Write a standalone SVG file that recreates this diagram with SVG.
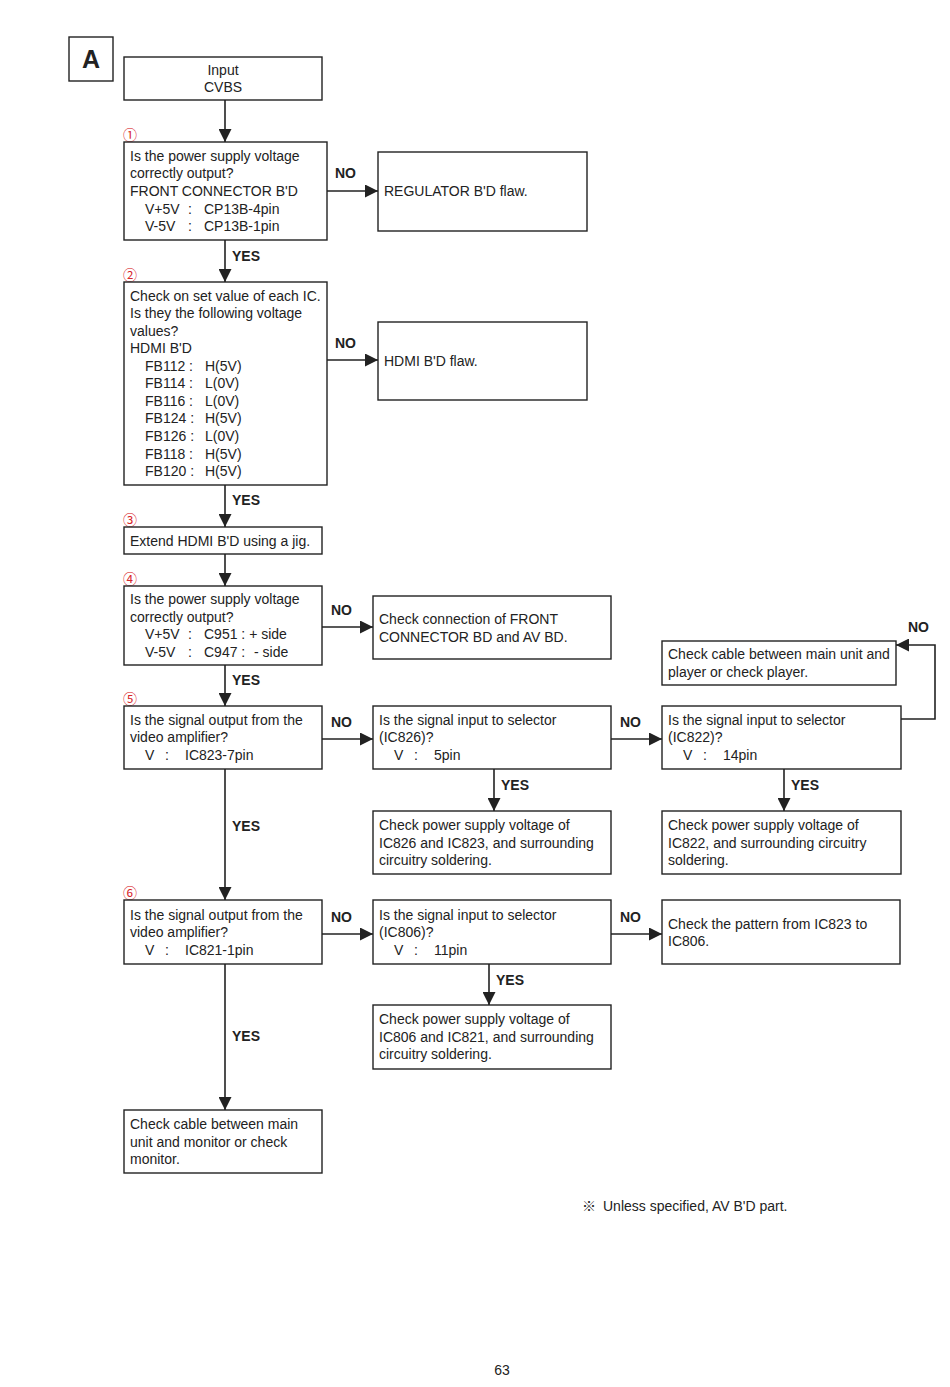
<svg xmlns="http://www.w3.org/2000/svg" width="950" height="1387" viewBox="0 0 950 1387">
<style>
.box{fill:#fff;stroke:#222;stroke-width:1.4}
.t{font-family:"Liberation Sans",Arial,sans-serif;font-size:14px;fill:#222}
.c{text-anchor:middle}
.lbl{font-family:"Liberation Sans",Arial,sans-serif;font-size:14px;font-weight:bold;fill:#222}
.num{font-family:"Noto Sans CJK JP","DejaVu Sans",sans-serif;font-size:14px;fill:#d8262b}
.ln{fill:none;stroke:#222;stroke-width:1.6}
</style>
<defs>
<marker id="ah" markerUnits="userSpaceOnUse" markerWidth="13" markerHeight="13" refX="13" refY="6.5" orient="auto">
<path d="M0,0 L13,6.5 L0,13 z" fill="#222"/>
</marker>
</defs>
<rect width="950" height="1387" fill="#fff"/>

<g id="label-A">
<rect class="box" x="69" y="37" width="44" height="44"/>
<text x="91" y="68" font-family="Liberation Sans,Arial,sans-serif" font-size="25" font-weight="bold" text-anchor="middle" fill="#222">A</text>
</g>

<g id="connectors">
<path class="ln" marker-end="url(#ah)" d="M225,100 V142"/>
<path class="ln" marker-end="url(#ah)" d="M327,191 H378"/>
<path class="ln" marker-end="url(#ah)" d="M225,240 V282"/>
<path class="ln" marker-end="url(#ah)" d="M327,360 H378"/>
<path class="ln" marker-end="url(#ah)" d="M225,485 V527"/>
<path class="ln" marker-end="url(#ah)" d="M225,554 V586"/>
<path class="ln" marker-end="url(#ah)" d="M322,627 H373"/>
<path class="ln" marker-end="url(#ah)" d="M225,665 V706"/>
<path class="ln" marker-end="url(#ah)" d="M322,739 H373"/>
<path class="ln" marker-end="url(#ah)" d="M611,739 H662"/>
<path class="ln" marker-end="url(#ah)" d="M901,719 H935 V645 H896"/>
<path class="ln" marker-end="url(#ah)" d="M494,769 V811"/>
<path class="ln" marker-end="url(#ah)" d="M784,769 V811"/>
<path class="ln" marker-end="url(#ah)" d="M225,769 V900"/>
<path class="ln" marker-end="url(#ah)" d="M322,934 H373"/>
<path class="ln" marker-end="url(#ah)" d="M611,934 H662"/>
<path class="ln" marker-end="url(#ah)" d="M489,964 V1005"/>
<path class="ln" marker-end="url(#ah)" d="M225,964 V1110"/>
<text class="lbl" x="335" y="178">NO</text>
<text class="lbl" x="232" y="261">YES</text>
<text class="lbl" x="335" y="348">NO</text>
<text class="lbl" x="232" y="505">YES</text>
<text class="lbl" x="331" y="615">NO</text>
<text class="lbl" x="232" y="685">YES</text>
<text class="lbl" x="331" y="727">NO</text>
<text class="lbl" x="620" y="727">NO</text>
<text class="lbl" x="908" y="632">NO</text>
<text class="lbl" x="501" y="790">YES</text>
<text class="lbl" x="791" y="790">YES</text>
<text class="lbl" x="232" y="831">YES</text>
<text class="lbl" x="331" y="922">NO</text>
<text class="lbl" x="620" y="922">NO</text>
<text class="lbl" x="496" y="985">YES</text>
<text class="lbl" x="232" y="1041">YES</text>
</g>

<g id="n-input">
<rect class="box" x="124" y="57" width="198" height="43"/>
<text class="t c" x="223" y="75">Input</text>
<text class="t c" x="223" y="92">CVBS</text>
</g>

<g id="n1">
<text class="num" x="123" y="140">①</text>
<rect class="box" x="124" y="142" width="203" height="98"/>
<text class="t" x="130" y="161">Is the power supply voltage</text>
<text class="t" x="130" y="178">correctly output?</text>
<text class="t" x="130" y="196">FRONT CONNECTOR B'D</text>
<text class="t" y="214"><tspan x="145">V+5V</tspan><tspan x="188">:</tspan><tspan x="204">CP13B-4pin</tspan></text>
<text class="t" y="231"><tspan x="145">V-5V</tspan><tspan x="188">:</tspan><tspan x="204">CP13B-1pin</tspan></text>
</g>

<g id="n-regulator">
<rect class="box" x="378" y="152" width="209" height="79"/>
<text class="t" x="384" y="196">REGULATOR B'D flaw.</text>
</g>

<g id="n2">
<text class="num" x="123" y="280">②</text>
<rect class="box" x="124" y="282" width="203" height="203"/>
<text class="t" x="130" y="301">Check on set value of each IC.</text>
<text class="t" x="130" y="318">Is they the following voltage</text>
<text class="t" x="130" y="336">values?</text>
<text class="t" x="130" y="353">HDMI B'D</text>
<text class="t" x="145" y="371">FB112 :</text><text class="t" x="205" y="371">H(5V)</text>
<text class="t" x="145" y="388">FB114 :</text><text class="t" x="205" y="388">L(0V)</text>
<text class="t" x="145" y="406">FB116 :</text><text class="t" x="205" y="406">L(0V)</text>
<text class="t" x="145" y="423">FB124 :</text><text class="t" x="205" y="423">H(5V)</text>
<text class="t" x="145" y="441">FB126 :</text><text class="t" x="205" y="441">L(0V)</text>
<text class="t" x="145" y="459">FB118 :</text><text class="t" x="205" y="459">H(5V)</text>
<text class="t" x="145" y="476">FB120 :</text><text class="t" x="205" y="476">H(5V)</text>
</g>

<g id="n-hdmi">
<rect class="box" x="378" y="322" width="209" height="78"/>
<text class="t" x="384" y="366">HDMI B'D flaw.</text>
</g>

<g id="n3">
<text class="num" x="123" y="525">③</text>
<rect class="box" x="124" y="527" width="198" height="27"/>
<text class="t" x="130" y="546">Extend HDMI B'D using a jig.</text>
</g>

<g id="n4">
<text class="num" x="123" y="584">④</text>
<rect class="box" x="124" y="586" width="198" height="79"/>
<text class="t" x="130" y="604">Is the power supply voltage</text>
<text class="t" x="130" y="622">correctly output?</text>
<text class="t" y="639"><tspan x="145">V+5V</tspan><tspan x="188">:</tspan><tspan x="204">C951 : + side</tspan></text>
<text class="t" y="657"><tspan x="145">V-5V</tspan><tspan x="188">:</tspan><tspan x="204">C947 :</tspan><tspan x="254">- side</tspan></text>
</g>

<g id="n-frontconn">
<rect class="box" x="373" y="596" width="238" height="63"/>
<text class="t" x="379" y="624">Check connection of FRONT</text>
<text class="t" x="379" y="642">CONNECTOR BD and AV BD.</text>
</g>

<g id="n5">
<text class="num" x="123" y="704">⑤</text>
<rect class="box" x="124" y="706" width="198" height="63"/>
<text class="t" x="130" y="725">Is the signal output from the</text>
<text class="t" x="130" y="742">video amplifier?</text>
<text class="t" y="760"><tspan x="145">V</tspan><tspan x="165">:</tspan><tspan x="185">IC823-7pin</tspan></text>
</g>

<g id="n-ic826">
<rect class="box" x="373" y="706" width="238" height="63"/>
<text class="t" x="379" y="725">Is the signal input to selector</text>
<text class="t" x="379" y="742">(IC826)?</text>
<text class="t" y="760"><tspan x="394">V</tspan><tspan x="414">:</tspan><tspan x="434">5pin</tspan></text>
</g>

<g id="n-ic822">
<rect class="box" x="662" y="706" width="239" height="63"/>
<text class="t" x="668" y="725">Is the signal input to selector</text>
<text class="t" x="668" y="742">(IC822)?</text>
<text class="t" y="760"><tspan x="683">V</tspan><tspan x="703">:</tspan><tspan x="723">14pin</tspan></text>
</g>

<g id="n-player">
<rect class="box" x="662" y="641" width="234" height="44"/>
<text class="t" x="668" y="659">Check cable between main unit and</text>
<text class="t" x="668" y="677">player or check player.</text>
</g>

<g id="n-pwr826">
<rect class="box" x="373" y="811" width="238" height="63"/>
<text class="t" x="379" y="830">Check power supply voltage of</text>
<text class="t" x="379" y="848">IC826 and IC823, and surrounding</text>
<text class="t" x="379" y="865">circuitry soldering.</text>
</g>

<g id="n-pwr822">
<rect class="box" x="662" y="811" width="239" height="63"/>
<text class="t" x="668" y="830">Check power supply voltage of</text>
<text class="t" x="668" y="848">IC822, and surrounding circuitry</text>
<text class="t" x="668" y="865">soldering.</text>
</g>

<g id="n6">
<text class="num" x="123" y="898">⑥</text>
<rect class="box" x="124" y="900" width="198" height="64"/>
<text class="t" x="130" y="920">Is the signal output from the</text>
<text class="t" x="130" y="937">video amplifier?</text>
<text class="t" y="955"><tspan x="145">V</tspan><tspan x="165">:</tspan><tspan x="185">IC821-1pin</tspan></text>
</g>

<g id="n-ic806">
<rect class="box" x="373" y="900" width="238" height="64"/>
<text class="t" x="379" y="920">Is the signal input to selector</text>
<text class="t" x="379" y="937">(IC806)?</text>
<text class="t" y="955"><tspan x="394">V</tspan><tspan x="414">:</tspan><tspan x="434">11pin</tspan></text>
</g>

<g id="n-pattern">
<rect class="box" x="662" y="900" width="238" height="64"/>
<text class="t" x="668" y="929">Check the pattern from IC823 to</text>
<text class="t" x="668" y="946">IC806.</text>
</g>

<g id="n-pwr806">
<rect class="box" x="373" y="1005" width="238" height="64"/>
<text class="t" x="379" y="1024">Check power supply voltage of</text>
<text class="t" x="379" y="1042">IC806 and IC821, and surrounding</text>
<text class="t" x="379" y="1059">circuitry soldering.</text>
</g>

<g id="n-monitor">
<rect class="box" x="124" y="1110" width="198" height="63"/>
<text class="t" x="130" y="1129">Check cable between main</text>
<text class="t" x="130" y="1147">unit and monitor or check</text>
<text class="t" x="130" y="1164">monitor.</text>
</g>

<g id="footer">
<text y="1211" font-family="Liberation Sans,Arial,'Noto Sans CJK JP',sans-serif" font-size="14" fill="#222"><tspan x="582">※</tspan><tspan x="603">Unless specified, AV B'D part.</tspan></text>
<text class="t c" x="502" y="1375">63</text>
</g>
</svg>
